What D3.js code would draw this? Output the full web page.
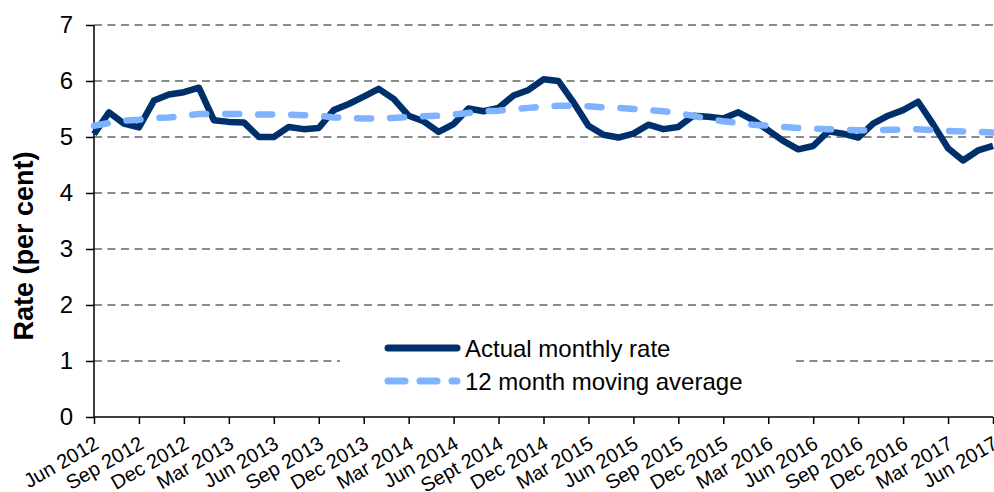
<!DOCTYPE html>
<html>
<head>
<meta charset="utf-8">
<script src="https://cdnjs.cloudflare.com/ajax/libs/d3/7.8.5/d3.min.js"></script>
<style>
  body { margin: 0; background: #fff; }
  svg { font-family: "Liberation Sans", Arial, sans-serif; display: block; }
</style>
</head>
<body>
<svg id="chart" width="994" height="492"></svg>
<script>
// monthly categories, Jun 2012 .. Jun 2017
var months = [
  "Jun 2012","Jul 2012","Aug 2012","Sep 2012","Oct 2012","Nov 2012","Dec 2012",
  "Jan 2013","Feb 2013","Mar 2013","Apr 2013","May 2013","Jun 2013","Jul 2013","Aug 2013","Sep 2013","Oct 2013","Nov 2013","Dec 2013",
  "Jan 2014","Feb 2014","Mar 2014","Apr 2014","May 2014","Jun 2014","Jul 2014","Aug 2014","Sep 2014","Oct 2014","Nov 2014","Dec 2014",
  "Jan 2015","Feb 2015","Mar 2015","Apr 2015","May 2015","Jun 2015","Jul 2015","Aug 2015","Sep 2015","Oct 2015","Nov 2015","Dec 2015",
  "Jan 2016","Feb 2016","Mar 2016","Apr 2016","May 2016","Jun 2016","Jul 2016","Aug 2016","Sep 2016","Oct 2016","Nov 2016","Dec 2016",
  "Jan 2017","Feb 2017","Mar 2017","Apr 2017","May 2017","Jun 2017"
];

var actualRate = [
  5.05,5.44,5.24,5.17,5.65,5.76,5.80,
  5.88,5.30,5.27,5.26,5.00,5.00,5.18,5.14,5.16,5.48,5.59,5.72,
  5.86,5.68,5.38,5.28,5.09,5.23,5.51,5.46,5.52,5.74,5.84,6.03,
  6.00,5.62,5.20,5.04,4.99,5.06,5.22,5.14,5.18,5.38,5.36,5.33,
  5.44,5.30,5.12,4.93,4.78,4.84,5.10,5.06,4.99,5.24,5.38,5.48,
  5.63,5.23,4.80,4.58,4.76,4.84
];

var movingAverage = [
  5.20,5.25,5.29,5.31,5.34,5.35,5.38,
  5.41,5.41,5.41,5.41,5.40,5.40,5.40,5.39,5.38,5.35,5.34,5.33,
  5.33,5.34,5.36,5.37,5.38,5.40,5.43,5.46,5.47,5.50,5.52,5.54,
  5.56,5.56,5.55,5.53,5.52,5.50,5.48,5.46,5.42,5.38,5.32,5.28,
  5.25,5.22,5.20,5.18,5.16,5.15,5.14,5.13,5.12,5.12,5.13,5.13,
  5.14,5.12,5.11,5.10,5.09,5.08
];

var tickLabels = ["Jun 2012","Sep 2012","Dec 2012","Mar 2013","Jun 2013","Sep 2013","Dec 2013",
  "Mar 2014","Jun 2014","Sept 2014","Dec 2014","Mar 2015","Jun 2015","Sep 2015","Dec 2015",
  "Mar 2016","Jun 2016","Sep 2016","Dec 2016","Mar 2017","Jun 2017"];

var yTicks = [0,1,2,3,4,5,6,7];
var seriesNames = ["Actual monthly rate", "12 month moving average"];

var svg = d3.select("#chart");

var x = d3.scalePoint().domain(months).range([94, 993]);
var y = d3.scaleLinear().domain([0, 7]).range([417, 25]);

var darkBlue = "#00306b",
    lightBlue = "#80b3ff";

//gridlines
svg.append("g").selectAll("line")
  .data(yTicks.filter(d => d > 0))
  .join("line")
    .attr("x1", 94).attr("x2", 993)
    .attr("y1", d => y(d)).attr("y2", d => y(d))
    .attr("stroke", "#666")
    .attr("stroke-width", 1.5)
    .attr("stroke-dasharray", "8,5.5");

//legend background hides the grid behind it
svg.append("rect")
  .attr("x", 340).attr("y", 330)
  .attr("width", 452).attr("height", 70)
  .attr("fill", "#fff");

//y axis
var yAxis = svg.append("g")
  .attr("transform", "translate(94,0)")
  .call(d3.axisLeft(y).tickValues(yTicks).tickSize(8).tickPadding(13).tickFormat(d3.format("d")));
yAxis.select(".domain").attr("stroke", "#000").attr("stroke-width", 1.5).attr("d", "M0," + y(7) + "V" + y(0));
yAxis.selectAll(".tick line").attr("stroke", "#000").attr("stroke-width", 1.5);
yAxis.selectAll(".tick text")
  .attr("font-size", 24).attr("fill", "#000")
  .style("font-family", "Liberation Sans, Arial, sans-serif");

//x axis
var xTickVals = months.filter((m, i) => i % 3 == 0);
var xAxis = svg.append("g")
  .attr("transform", "translate(0,417)")
  .call(d3.axisBottom(x).tickValues(xTickVals).tickSize(7).tickFormat(""));
xAxis.select(".domain").attr("stroke", "#000").attr("stroke-width", 1.5).attr("d", "M94,0H993");
xAxis.selectAll(".tick line").attr("stroke", "#000").attr("stroke-width", 1.5);

svg.append("g").selectAll("text")
  .data(xTickVals)
  .join("text")
    .attr("transform", d => "translate(" + (x(d) - 1) + ",435) rotate(-30)")
    .attr("text-anchor", "end")
    .attr("dy", "0.72em")
    .attr("font-size", 20)
    .text((d, i) => tickLabels[i]);

//y axis title
svg.append("text")
  .attr("transform", "translate(33,246) rotate(-90)")
  .attr("text-anchor", "middle")
  .attr("font-size", 27)
  .attr("font-weight", "bold")
  .text("Rate  (per cent)");

//lines
var line = d3.line().x((d, i) => x(months[i])).y(d => y(d));

svg.append("path")
  .datum(actualRate)
  .attr("d", line)
  .attr("fill", "none")
  .attr("stroke", darkBlue)
  .attr("stroke-width", 6.5)
  .attr("stroke-linejoin", "round");

svg.append("path")
  .datum(movingAverage)
  .attr("d", line)
  .attr("fill", "none")
  .attr("stroke", lightBlue)
  .attr("stroke-width", 6.5)
  .attr("stroke-linecap", "round")
  .attr("stroke-dasharray", "14,19");

//legend
var legend = svg.append("g").selectAll("g")
  .data(seriesNames)
  .join("g")
    .attr("transform", (d, i) => "translate(0," + (348 + i * 33) + ")");

legend.append("line")
  .attr("x1", 388).attr("x2", 457)
  .attr("stroke", (d, i) => i == 0 ? darkBlue : lightBlue)
  .attr("stroke-width", 7)
  .attr("stroke-linecap", "round")
  .attr("stroke-dasharray", (d, i) => i == 0 ? null : "17,15");

legend.append("text")
  .attr("x", 465)
  .attr("y", 9)
  .attr("font-size", 24)
  .text(d => d);
</script>
</body>
</html>
